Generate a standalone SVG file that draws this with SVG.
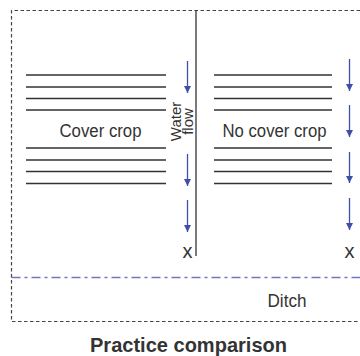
<svg xmlns="http://www.w3.org/2000/svg" width="360" height="356" viewBox="0 0 360 356">
<style>
.lbl{font-family:"Liberation Sans",Arial,sans-serif;font-size:18px;fill:#333;}
.small{font-family:"Liberation Sans",Arial,sans-serif;font-size:15px;fill:#333;}
.title{font-family:"Liberation Sans",Arial,sans-serif;font-size:21px;font-weight:bold;fill:#333;}
.crop{stroke:#333;stroke-width:1.5;fill:none;}
.border{stroke:#444;stroke-width:1.2;stroke-dasharray:3.5 2.5;fill:none;}
.ditch{stroke:#7278bd;stroke-width:1.4;stroke-dasharray:9 4 3 4;fill:none;}
.flow{stroke:#3f4fa8;stroke-width:1.3;fill:none;marker-end:url(#ah);}
</style>
<defs>
<marker id="ah" viewBox="0 0 10 10" refX="10" refY="5" markerWidth="7" markerHeight="7" markerUnits="userSpaceOnUse" orient="auto">
<path d="M0,0 L10,5 L0,10 Z" fill="#3f4fa8"/>
</marker>
</defs>
<rect width="360" height="356" fill="#fff"/>
<g id="field-border">
<path class="border" d="M360,10.5 H11.5 V321.5 H360"/>
</g>
<g id="ditch">
<line class="ditch" x1="11.5" y1="277.5" x2="360" y2="277.5"/>
<text class="lbl" x="267.5" y="306.5" textLength="39" lengthAdjust="spacingAndGlyphs">Ditch</text>
</g>
<g id="divider">
<line x1="196" y1="10" x2="196" y2="256" stroke="#333" stroke-width="1.3"/>
</g>
<g id="cover-crop">
<path class="crop" d="M26,75 H166 M26,87 H166 M26,98.5 H166 M26,110 H166 M26,148 H166 M26,160 H166 M26,171.5 H166 M26,183.5 H166"/>
<text class="lbl" x="59.5" y="137" textLength="82" lengthAdjust="spacingAndGlyphs">Cover crop</text>
</g>
<g id="no-cover-crop">
<path class="crop" d="M214,75 H332 M214,87 H332 M214,98.5 H332 M214,110 H332 M214,148 H332 M214,160 H332 M214,171.5 H332 M214,183.5 H332"/>
<text class="lbl" x="222.5" y="137" textLength="104" lengthAdjust="spacingAndGlyphs">No cover crop</text>
</g>
<g id="water-flow-label">
<text class="small" transform="translate(180.5,121.5) rotate(-90)" text-anchor="middle">Water</text>
<text class="small" transform="translate(193,121.5) rotate(-90)" text-anchor="middle">flow</text>
</g>
<g id="connectors">
<line class="flow" x1="187.5" y1="61" x2="187.5" y2="93"/>
<line class="flow" x1="187.5" y1="154" x2="187.5" y2="186"/>
<line class="flow" x1="187.5" y1="200" x2="187.5" y2="232"/>
<line class="flow" x1="349.5" y1="59" x2="349.5" y2="91"/>
<line class="flow" x1="349.5" y1="105" x2="349.5" y2="137"/>
<line class="flow" x1="349.5" y1="152" x2="349.5" y2="183"/>
<line class="flow" x1="349.5" y1="198" x2="349.5" y2="230"/>
</g>
<g id="outlet-left">
<text class="lbl" x="187.5" y="258" text-anchor="middle" style="font-size:20px">x</text>
</g>
<g id="outlet-right">
<text class="lbl" x="349.5" y="258" text-anchor="middle" style="font-size:20px">x</text>
</g>
<g id="title">
<text class="title" x="90" y="351.5" textLength="197" lengthAdjust="spacingAndGlyphs">Practice comparison</text>
</g>
</svg>
